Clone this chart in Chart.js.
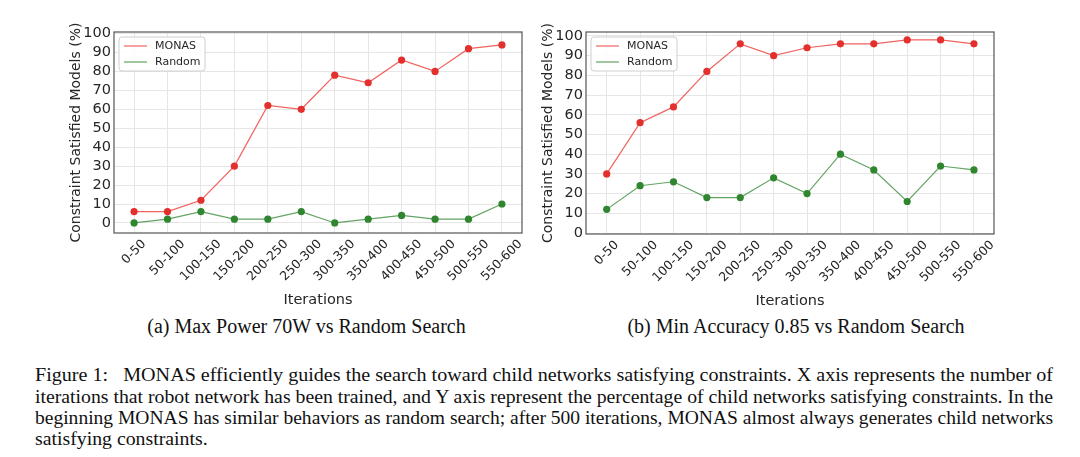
<!DOCTYPE html>
<html><head><meta charset="utf-8">
<script src="https://cdn.jsdelivr.net/npm/chart.js@4.4.1/dist/chart.umd.min.js"></script>
<style>
html,body{margin:0;padding:0;background:#fff;width:1080px;height:457px;overflow:hidden;position:relative}
.cw{position:absolute}
.sub{position:absolute;font-family:"Liberation Serif","Times New Roman",serif;color:#111;white-space:nowrap;font-size:20px;line-height:24px}
.cap{position:absolute;left:35px;font-family:"Liberation Serif","Times New Roman",serif;color:#111;white-space:nowrap;font-size:18px;line-height:20px;transform-origin:0 50%}
</style></head>
<body>
<div class="cw" style="left:0;top:0;width:540px;height:309px"><canvas id="c1"></canvas></div>
<div class="cw" style="left:540px;top:0;width:540px;height:310px"><canvas id="c2"></canvas></div>
<div class="sub" id="s1">(a) Max Power 70W vs Random Search</div>
<div class="sub" id="s2">(b) Min Accuracy 0.85 vs Random Search</div>
<div class="cap" id="l1">Figure 1:&nbsp;&nbsp; MONAS efficiently guides the search toward child networks satisfying constraints. X axis represents the number of</div>
<div class="cap" id="l2">iterations that robot network has been trained, and Y axis represent the percentage of child networks satisfying constraints. In the</div>
<div class="cap" id="l3">beginning MONAS has similar behaviors as random search; after 500 iterations, MONAS almost always generates child networks</div>
<div class="cap" id="l4">satisfying constraints.</div>
<script>
// ---- data ----
const iterations = ['0-50','50-100','100-150','150-200','200-250','250-300','300-350','350-400','400-450','450-500','500-550','550-600'];
const monasPower = [6,6,12,30,62,60,78,74,86,80,92,94];
const randomPower = [0,2,6,2,2,6,0,2,4,2,2,10];
const monasAccuracy = [30,56,64,82,96,90,94,96,96,98,98,96];
const randomAccuracy = [12,24,26,18,18,28,20,40,32,16,34,32];
const seriesNames = ['MONAS','Random'];
const yTitle = 'Constraint Satisfied Models (%)';
const xTitle = 'Iterations';

const TXT = '#262626';
const FONT = '"DejaVu Sans", sans-serif';

function roundRect(ctx,x,y,w,h,r){
  ctx.beginPath();
  ctx.moveTo(x+r,y);ctx.lineTo(x+w-r,y);ctx.quadraticCurveTo(x+w,y,x+w,y+r);
  ctx.lineTo(x+w,y+h-r);ctx.quadraticCurveTo(x+w,y+h,x+w-r,y+h);
  ctx.lineTo(x+r,y+h);ctx.quadraticCurveTo(x,y+h,x,y+h-r);
  ctx.lineTo(x,y+r);ctx.quadraticCurveTo(x,y,x+r,y);ctx.closePath();
}

const framePlugin = {
  id:'frame',
  afterDraw(chart){
    const ctx = chart.ctx, a = chart.chartArea;
    ctx.save();
    // spines
    ctx.strokeStyle = '#555'; ctx.lineWidth = 1.2;
    ctx.strokeRect(a.left, a.top, a.right-a.left, a.bottom-a.top);
    // rotated x tick labels (centered under tick, matplotlib style)
    const xs = chart.scales.x;
    const fs = 12.5;
    ctx.font = fs + 'px ' + FONT;
    ctx.fillStyle = TXT;
    const h = fs*1.16, c = Math.SQRT1_2;
    iterations.forEach((lab,i)=>{
      const w = ctx.measureText(lab).width;
      const bh = (w+h)*c;
      const x = xs.getPixelForValue(i);
      const y = a.bottom + 4 + bh/2;
      ctx.save(); ctx.translate(x,y); ctx.rotate(-Math.PI/4);
      ctx.textAlign='center'; ctx.textBaseline='middle';
      ctx.fillText(lab,0,0); ctx.restore();
    });
    // legend
    const bx = a.left+5, by = a.top+5;
    roundRect(ctx,bx,by,86,34,3);
    ctx.fillStyle='rgba(255,255,255,0.85)'; ctx.fill();
    ctx.strokeStyle='#cfcfcf'; ctx.lineWidth=1; ctx.stroke();
    ctx.font = '11px ' + FONT; ctx.textAlign='left'; ctx.textBaseline='middle';
    chart.data.datasets.forEach((ds,i)=>{
      const yy = by+9+16*i;
      ctx.strokeStyle = ds.borderColor; ctx.lineWidth = 1.2;
      ctx.beginPath(); ctx.moveTo(bx+5,yy); ctx.lineTo(bx+28,yy); ctx.stroke();
      ctx.fillStyle = TXT; ctx.fillText(ds.label, bx+36, yy+0.5);
    });
    ctx.restore();
  }
};

function makeChart(id, monas, random, o){
  const toPts = arr => arr.map((v,i)=>({x:i,y:v}));
  return new Chart(document.getElementById(id), {
    type:'line',
    data:{datasets:[
      {label:seriesNames[0], data:toPts(monas), borderColor:'rgba(236,70,66,0.85)', borderWidth:1.2,
       pointBackgroundColor:'#e3302c', pointBorderWidth:0, pointRadius:3.6, tension:0},
      {label:seriesNames[1], data:toPts(random), borderColor:'rgba(60,140,60,0.8)', borderWidth:1.2,
       pointBackgroundColor:'#2f862f', pointBorderWidth:0, pointRadius:3.6, tension:0}
    ]},
    options:{
      responsive:true, maintainAspectRatio:false, animation:false, devicePixelRatio:1,
      layout:{padding:{left:o.padL, right:o.padR, top:32, bottom:0}},
      plugins:{legend:{display:false}, tooltip:{enabled:false}},
      scales:{
        x:{type:'linear', min:o.xMin, max:o.xMax,
           ticks:{display:false, stepSize:1, includeBounds:false, autoSkip:false},
           grid:{color:'#e6e6e6', lineWidth:1, drawTicks:false},
           border:{display:false},
           title:{display:true, text:xTitle, color:TXT, font:{family:FONT, size:14.5}, padding:0},
           afterFit(s){ s.height = o.xH; }},
        y:{type:'linear', min:o.yMin, max:o.yMax,
           ticks:{stepSize:10, includeBounds:false, autoSkip:false, color:TXT, font:{family:FONT, size:14.5}, padding:3},
           grid:{color:'#e6e6e6', lineWidth:1, drawTicks:false},
           border:{display:false},
           title:{display:true, text:yTitle, color:TXT, font:{family:FONT, size:14}, padding:0},
           afterFit(s){ s.width = 46; }}
      }
    },
    plugins:[framePlugin]
  });
}

makeChart('c1', monasPower, randomPower, {padL:68, padR:18, xMin:-0.6, xMax:11.6, yMin:-5.3, yMax:100.8, xH:76});
makeChart('c2', monasAccuracy, randomAccuracy, {padL:0, padR:86, xMin:-0.62, xMax:11.6, yMin:-0.5, yMax:102, xH:76});

// caption layout
function place(id, cx, cy){
  const el = document.getElementById(id);
  const r = el.getBoundingClientRect();
  el.style.left = (cx - r.width/2) + 'px';
  el.style.top = (cy - r.height/2) + 'px';
}
place('s1', 306.5, 326);
place('s2', 796, 326);
const capCenters = [375, 396.5, 418, 439];
const target = 1018;
let scales = [];
['l1','l2','l3','l4'].forEach((id,i)=>{
  const el = document.getElementById(id);
  el.style.top = (capCenters[i]-10) + 'px';
  const w = el.getBoundingClientRect().width;
  if (i<3){ const s = target/w; scales.push(s); el.style.transform='scaleX('+s+')'; }
  else { const s = scales.reduce((p,q)=>p+q,0)/scales.length; el.style.transform='scaleX('+s+')'; }
});
</script>
</body></html>
